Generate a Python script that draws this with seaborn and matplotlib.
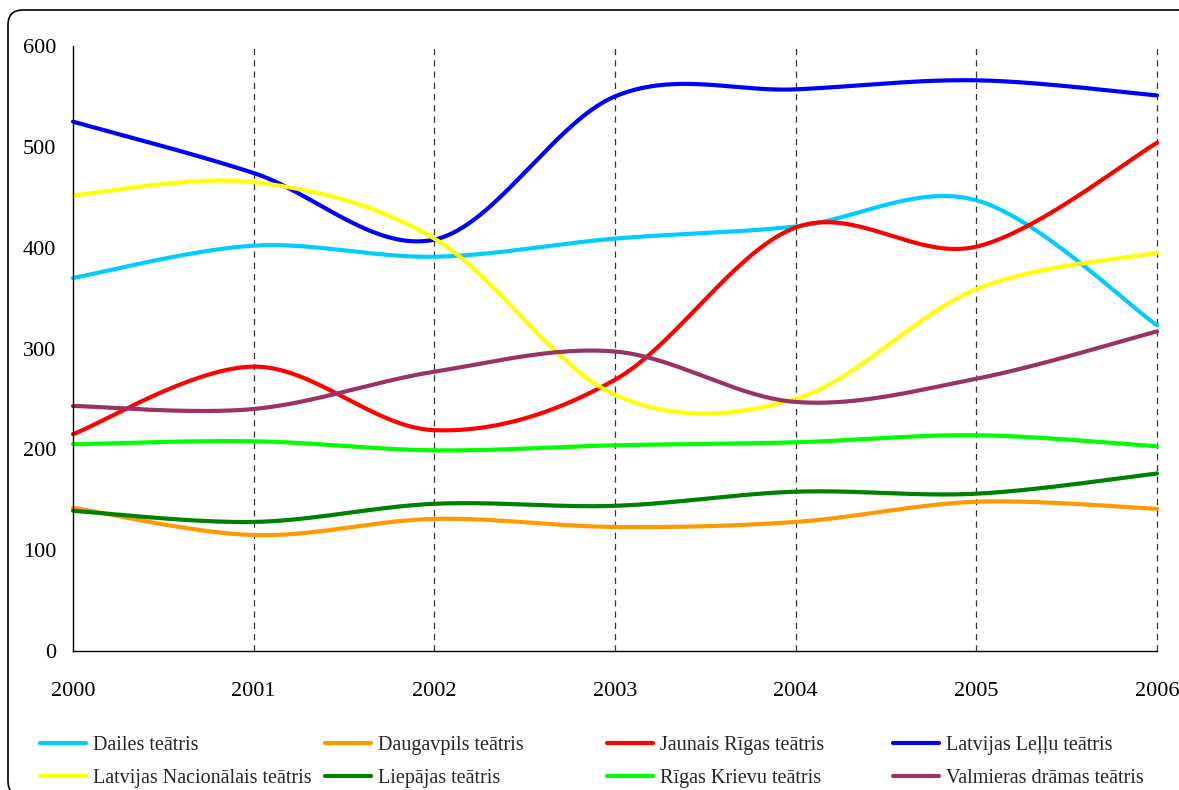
import numpy as np
import pandas as pd
import matplotlib
matplotlib.use("Agg")
import matplotlib.pyplot as plt
import seaborn as sns
from matplotlib.patches import FancyBboxPatch
from matplotlib.lines import Line2D

# Yearly values
years = [2000, 2001, 2002, 2003, 2004, 2005, 2006]
dailes = [370, 402, 391, 409, 421, 447, 323]
daugavpils = [142, 115, 131, 123, 128, 148, 141]
jaunais_rigas = [215, 282, 219, 269, 420, 401, 504]
lellu = [525, 474, 408, 550, 557, 566, 551]
nacionalais = [452, 465, 409, 254, 250, 359, 395]
liepajas = [139, 128, 146, 144, 158, 156, 176]
rigas_krievu = [205, 208, 199, 204, 207, 214, 203]
valmieras = [243, 240, 277, 297, 247, 270, 317]

names = ["Dailes teātris", "Daugavpils teātris", "Jaunais Rīgas teātris",
         "Latvijas Leļļu teātris", "Latvijas Nacionālais teātris",
         "Liepājas teātris", "Rīgas Krievu teātris", "Valmieras drāmas teātris"]
series = [dailes, daugavpils, jaunais_rigas, lellu, nacionalais,
          liepajas, rigas_krievu, valmieras]
colors = ["#00CCFF", "#FF9900", "#FF0000", "#0000FF", "#FFFF00",
          "#008000", "#00FF00", "#993366"]


def smooth(xs, ys, n=40):
    # Excel-style smoothed line (Bezier through the points)
    xs = np.asarray(xs, float)
    ys = np.asarray(ys, float)
    px = np.r_[xs[0], xs, xs[-1]]
    py = np.r_[ys[0], ys, ys[-1]]
    t = np.linspace(0, 1, n)
    out_x, out_y = [], []
    for i in range(len(xs) - 1):
        for p, out in ((px, out_x), (py, out_y)):
            b0 = p[i + 1]
            b1 = p[i + 1] + (p[i + 2] - p[i]) / 6
            b2 = p[i + 2] - (p[i + 3] - p[i + 1]) / 6
            b3 = p[i + 2]
            seg = ((1 - t) ** 3 * b0 + 3 * (1 - t) ** 2 * t * b1
                   + 3 * (1 - t) * t ** 2 * b2 + t ** 3 * b3)
            out.extend(seg if i == 0 else seg[1:])
    return out_x, out_y


rows = []
for name, vals in zip(names, series):
    sx, sy = smooth(years, vals)
    rows += [(name, a, b) for a, b in zip(sx, sy)]
df = pd.DataFrame(rows, columns=["teatris", "gads", "skaits"])

sns.set_style("white")
plt.rcParams["font.family"] = ["Liberation Serif", "DejaVu Serif"]

fig = plt.figure(figsize=(11.79, 7.90), dpi=100)
ax = fig.add_axes([73 / 1179, 139 / 790, 1084 / 1179, 605 / 790])

# Dashed vertical lines at each year
for yr in years[1:]:
    ax.axvline(yr, color="#333333", lw=0.9, linestyle=(0, (5, 4)), zorder=1)

sns.lineplot(data=df, x="gads", y="skaits", hue="teatris", hue_order=names,
             palette=colors, estimator=None, sort=False, lw=3.0,
             legend=False, ax=ax)
for ln in ax.get_lines():
    ln.set_clip_on(False)

ax.set_xlim(2000, 2006)
ax.set_ylim(0, 600)
ax.set_xticks(years)
ax.set_yticks(range(0, 601, 100))
ax.set_xlabel("")
ax.set_ylabel("")
for s in ["top", "right"]:
    ax.spines[s].set_visible(False)
for s in ["left", "bottom"]:
    ax.spines[s].set_color("black")
    ax.spines[s].set_linewidth(1)
ax.tick_params(axis="x", direction="inout", length=9, width=1, pad=18,
               labelsize=16, colors="black")
ax.tick_params(axis="y", direction="out", length=5, width=1, pad=7,
               labelsize=16, colors="black")

# Legend: two rows, four fixed-width columns
col_left = [40, 325, 607, 893]
for c in range(4):
    idx = [c, c + 4]
    handles = [Line2D([], [], color=colors[i], lw=3.0) for i in idx]
    fig.legend(handles, [names[i] for i in idx], loc="center left",
               bbox_to_anchor=(col_left[c] / 1179, 28 / 790),
               frameon=False, fontsize=14.5, handlelength=2.3,
               handletextpad=0.35, labelspacing=0.7, borderpad=0,
               borderaxespad=0)

# Rounded outer frame (right and bottom edges fall just outside the image)
frame = FancyBboxPatch((0.08, -0.06), 11.86, 7.86,
                       boxstyle="round,pad=0,rounding_size=0.15",
                       transform=fig.dpi_scale_trans, fill=False,
                       edgecolor="black", lw=1.2)
fig.patches.append(frame)

fig.savefig("out.png", dpi=100)
